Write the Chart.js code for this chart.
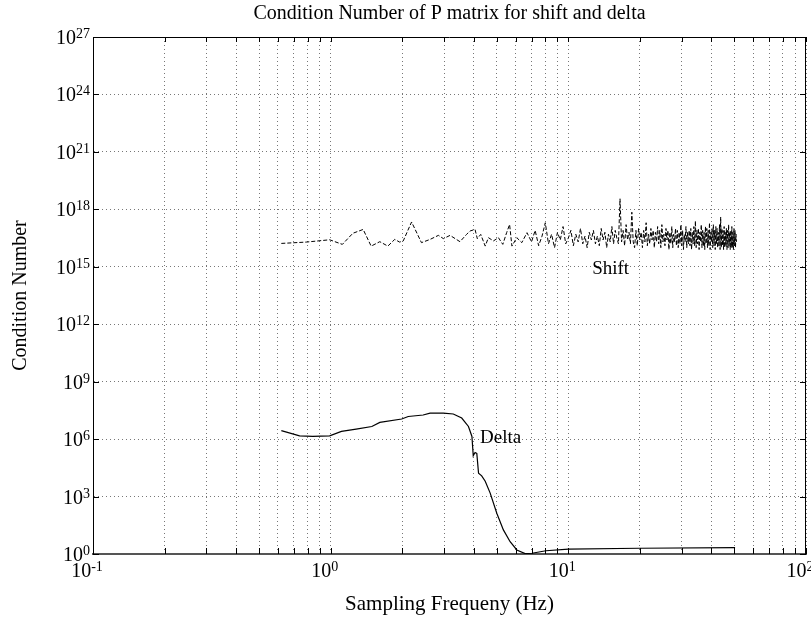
<!DOCTYPE html>
<html>
<head>
<meta charset="utf-8">
<script src="https://cdn.jsdelivr.net/npm/chart.js@4.4.1/dist/chart.umd.min.js"></script>
<style>
  html, body { margin: 0; padding: 0; background: #fff; }
</style>
</head>
<body>
<canvas id="condChart" width="811" height="629"></canvas>
<script>
const FONT = '"Liberation Serif", "Times New Roman", serif';

// axis ticks
const xTicks = [0.1, 0.2, 0.3, 0.4, 0.5, 0.6, 0.7, 0.8, 0.9,
  1, 2, 3, 4, 5, 6, 7, 8, 9,
  10, 20, 30, 40, 50, 60, 70, 80, 90, 100];
const xLabelTicks = [0.1, 1, 10, 100];
const yTicks = [1, 1e3, 1e6, 1e9, 1e12, 1e15, 1e18, 1e21, 1e24, 1e27];

// Shift: sampling frequency (Hz) and log10 of condition number
const shiftFreq = [0.62, 0.79, 0.99, 1.12, 1.24, 1.37, 1.48, 1.61, 1.74, 1.86,
  1.95, 2.02, 2.19, 2.41, 2.62, 2.84, 2.98, 3.18, 3.50, 3.73,
  3.86, 4.05, 4.14, 4.28, 4.47, 4.61, 4.84, 5.08, 5.30, 5.50,
  5.66, 5.79, 6.07, 6.37, 6.70,
  7, 7.25, 7.5, 7.75, 8, 8.25, 8.5, 8.75,
  9, 9.25, 9.5, 9.75, 10, 10.25, 10.5, 10.75,
  11, 11.25, 11.5, 11.75, 12, 12.25, 12.5, 12.75,
  13, 13.25, 13.5, 13.75, 14, 14.25, 14.5, 14.75,
  15, 15.25, 15.5, 15.75, 16, 16.25, 16.5, 16.75,
  17, 17.25, 17.5, 17.75, 18, 18.25, 18.5, 18.75,
  19, 19.25, 19.5, 19.75, 20, 20.25, 20.5, 20.75,
  21, 21.25, 21.5, 21.75, 22, 22.25, 22.5, 22.75,
  23, 23.25, 23.5, 23.75, 24, 24.25, 24.5, 24.75,
  25, 25.25, 25.5, 25.75, 26, 26.25, 26.5, 26.75,
  27, 27.25, 27.5, 27.75, 28, 28.25, 28.5, 28.75,
  29, 29.25, 29.5, 29.75, 30, 30.25, 30.5, 30.75,
  31, 31.25, 31.5, 31.75, 32, 32.25, 32.5, 32.75,
  33, 33.25, 33.5, 33.75, 34, 34.25, 34.5, 34.75,
  35, 35.25, 35.5, 35.75, 36, 36.25, 36.5, 36.75,
  37, 37.25, 37.5, 37.75, 38, 38.25, 38.5, 38.75,
  39, 39.25, 39.5, 39.75, 40, 40.25, 40.5, 40.75,
  41, 41.25, 41.5, 41.75, 42, 42.25, 42.5, 42.75,
  43, 43.25, 43.5, 43.75, 44, 44.25, 44.5, 44.75,
  45, 45.25, 45.5, 45.75, 46, 46.25, 46.5, 46.75,
  47, 47.25, 47.5, 47.75, 48, 48.25, 48.5, 48.75,
  49, 49.25, 49.5, 49.75, 50, 50.25, 50.5, 50.75, 51];
const shiftLog = [16.22, 16.29, 16.41, 16.17, 16.75, 16.95, 16.08, 16.31, 16.08, 16.43,
  16.29, 16.35, 17.34, 16.26, 16.43, 16.64, 16.47, 16.64, 16.31, 16.69,
  16.87, 16.95, 16.47, 16.69, 16.08, 16.52, 16.35, 16.52, 16.17, 16.78,
  17.21, 16.08, 16.52, 16.26, 16.78,
  16.3, 16.9, 16.1, 16.6, 17.3, 16.2, 16.7, 16.0,
  16.8, 16.4, 17.1, 16.2, 16.5, 16.9, 16.1, 16.7,
  16.3, 17.0, 16.2, 16.6, 16.0, 16.8, 16.4, 16.9,
  16.2, 16.6, 16.1, 17.0, 16.4, 16.8, 16.0, 16.7,
  16.3, 17.1, 16.2, 16.9, 16.5, 16.2, 18.55, 16.3,
  16.9, 16.1, 17.2, 16.4, 16.8, 16.2, 17.85, 16.3,
  16.0, 16.9, 16.1, 17.0, 16.4, 16.8, 16.0, 16.9,
  16.3, 17.3, 16.1, 16.7, 16.2, 17.0, 16.4, 16.9,
  16.0, 16.8, 16.3, 17.1, 16.2, 16.9, 16.0, 17.2,
  16.3, 16.7, 16.1, 17.0, 16.4, 16.9, 15.9, 16.8,
  16.2, 17.1, 16.0, 16.7, 16.3, 17.0, 16.1, 16.9,
  16.0, 16.8, 16.2, 17.2, 16.1, 16.9, 15.9, 16.7,
  16.3, 17.1, 16.0, 16.8, 16.2, 16.9, 16.1, 17.0,
  15.9, 16.8, 16.2, 17.1, 16.1, 17.4, 16.0, 16.9,
  16.2, 17.0, 15.9, 16.8, 16.3, 17.2, 16.0, 16.9,
  16.1, 16.8, 15.9, 17.1, 16.2, 17.0, 16.0, 16.9,
  16.1, 17.3, 15.9, 16.8, 16.3, 17.0, 16.0, 17.2,
  16.1, 16.9, 15.9, 17.1, 16.2, 17.0, 16.0, 16.8,
  16.1, 17.2, 15.9, 17.6, 16.0, 17.0, 16.1, 16.9,
  15.9, 17.1, 16.0, 16.8, 16.1, 17.0, 15.9, 16.9,
  16.0, 17.2, 16.1, 16.8, 15.9, 16.9, 16.0, 17.1,
  16.0, 16.8, 15.9, 17.0, 16.1, 16.9, 16.0, 16.7, 16.3];

// Delta: sampling frequency (Hz) and log10 of condition number
const deltaFreq = [0.62, 0.74, 0.84, 0.99, 1.11, 1.28, 1.49, 1.61, 1.99, 2.12,
  2.45, 2.62, 2.98, 3.28, 3.56, 3.80, 3.93, 3.98, 4.05, 4.12,
  4.19, 4.32, 4.47, 4.69, 5.00, 5.33, 5.69, 6.07, 6.58, 7.03,
  8.05, 10.0, 19.9, 50.3];
const deltaLog = [6.44, 6.17, 6.14, 6.17, 6.40, 6.52, 6.66, 6.87, 7.05, 7.18,
  7.26, 7.36, 7.36, 7.31, 7.10, 6.66, 6.14, 5.13, 5.30, 5.25,
  4.22, 4.08, 3.80, 3.18, 2.13, 1.26, 0.64, 0.21, 0.02, 0.04,
  0.17, 0.25, 0.30, 0.33];

// curve labels: [text, frequency, log10 value]
const curveLabels = [["Shift", 12.6, 14.86], ["Delta", 4.25, 6.07]];

function toPoints(fs, logs) {
  const n = Math.min(fs.length, logs.length);
  const pts = [];
  for (let i = 0; i < n; i++) pts.push({x: fs[i], y: Math.pow(10, logs[i])});
  return pts;
}

function drawPow(ctx, exp, x, y, align) {
  ctx.font = '20px ' + FONT;
  const w1 = ctx.measureText('10').width;
  ctx.font = '14px ' + FONT;
  const w2 = ctx.measureText(String(exp)).width;
  const x0 = align === 'right' ? x - w1 - w2 : x - (w1 + w2) / 2;
  ctx.textAlign = 'left';
  ctx.textBaseline = 'alphabetic';
  ctx.font = '20px ' + FONT;
  ctx.fillText('10', x0, y);
  ctx.font = '14px ' + FONT;
  ctx.fillText(String(exp), x0 + w1, y - 6);
}

const frame = {
  id: 'frame',
  afterDraw(chart) {
    const {ctx, chartArea: a} = chart;
    const xs = chart.scales.x, ys = chart.scales.y;
    ctx.save();
    ctx.strokeStyle = '#000';
    ctx.lineWidth = 1;
    // top and right border
    ctx.beginPath();
    ctx.moveTo(Math.round(a.left), Math.round(a.top) + 0.5);
    ctx.lineTo(Math.round(a.right), Math.round(a.top) + 0.5);
    ctx.moveTo(Math.round(a.right) - 0.5, Math.round(a.top));
    ctx.lineTo(Math.round(a.right) - 0.5, Math.round(a.bottom));
    ctx.stroke();
    // inward tick marks
    ctx.beginPath();
    xTicks.forEach(v => {
      const px = Math.round(xs.getPixelForValue(v)) + 0.5;
      ctx.moveTo(px, a.bottom); ctx.lineTo(px, a.bottom - 6);
      ctx.moveTo(px, a.top); ctx.lineTo(px, a.top + 5);
    });
    yTicks.forEach(v => {
      const py = Math.round(ys.getPixelForValue(v)) + 0.5;
      ctx.moveTo(a.left, py); ctx.lineTo(a.left + 6, py);
      ctx.moveTo(a.right, py); ctx.lineTo(a.right - 6, py);
    });
    ctx.stroke();
    // tick labels
    ctx.fillStyle = '#000';
    xLabelTicks.forEach(v => {
      drawPow(ctx, Math.round(Math.log10(v)), xs.getPixelForValue(v) - 6, a.bottom + 23, 'center');
    });
    yTicks.forEach(v => {
      drawPow(ctx, Math.round(Math.log10(v)), a.left - 3, ys.getPixelForValue(v) + 7, 'right');
    });
    // curve labels
    ctx.font = '19px ' + FONT;
    ctx.textAlign = 'left';
    ctx.textBaseline = 'middle';
    curveLabels.forEach(([t, f, l]) => {
      ctx.fillText(t, xs.getPixelForValue(f), ys.getPixelForValue(Math.pow(10, l)));
    });
    ctx.restore();
  }
};

new Chart(document.getElementById('condChart').getContext('2d'), {
  type: 'line',
  data: {
    datasets: [{
      label: 'Shift',
      data: toPoints(shiftFreq, shiftLog),
      borderColor: '#000',
      borderWidth: 1,
      borderDash: [4, 2],
      pointRadius: 0,
      tension: 0
    }, {
      label: 'Delta',
      data: toPoints(deltaFreq, deltaLog),
      borderColor: '#000',
      borderWidth: 1.2,
      pointRadius: 0,
      tension: 0
    }]
  },
  options: {
    responsive: false,
    animation: false,
    layout: {padding: {right: 5}},
    plugins: {
      legend: {display: false},
      tooltip: {enabled: false},
      title: {
        display: true,
        text: 'Condition Number of P matrix for shift and delta',
        fullSize: false,
        color: '#000',
        font: {family: FONT, size: 20, weight: 'normal'},
        padding: {top: 2, bottom: 11}
      }
    },
    scales: {
      x: {
        type: 'logarithmic',
        min: 0.1,
        max: 100,
        afterBuildTicks: s => { s.ticks = xTicks.map(v => ({value: v})); },
        afterFit: s => { s.height = 75; },
        ticks: {display: false},
        grid: {color: '#777', lineWidth: 1, drawTicks: false},
        border: {display: true, color: '#555', width: 2, dash: [1, 3]},
        title: {
          display: true,
          text: 'Sampling Frequeny (Hz)',
          color: '#000',
          font: {family: FONT, size: 21},
          padding: {top: 0, bottom: 12}
        }
      },
      y: {
        type: 'logarithmic',
        min: 1,
        max: 1e27,
        afterBuildTicks: s => { s.ticks = yTicks.map(v => ({value: v})); },
        afterFit: s => { s.width = 93; },
        ticks: {display: false},
        grid: {color: '#777', lineWidth: 1, drawTicks: false},
        border: {display: true, color: '#000', width: 1, dash: [1, 3]},
        title: {
          display: true,
          text: 'Condition Number',
          color: '#000',
          font: {family: FONT, size: 20},
          padding: {top: 9, bottom: 0}
        }
      }
    }
  },
  plugins: [frame]
});
</script>
</body>
</html>
